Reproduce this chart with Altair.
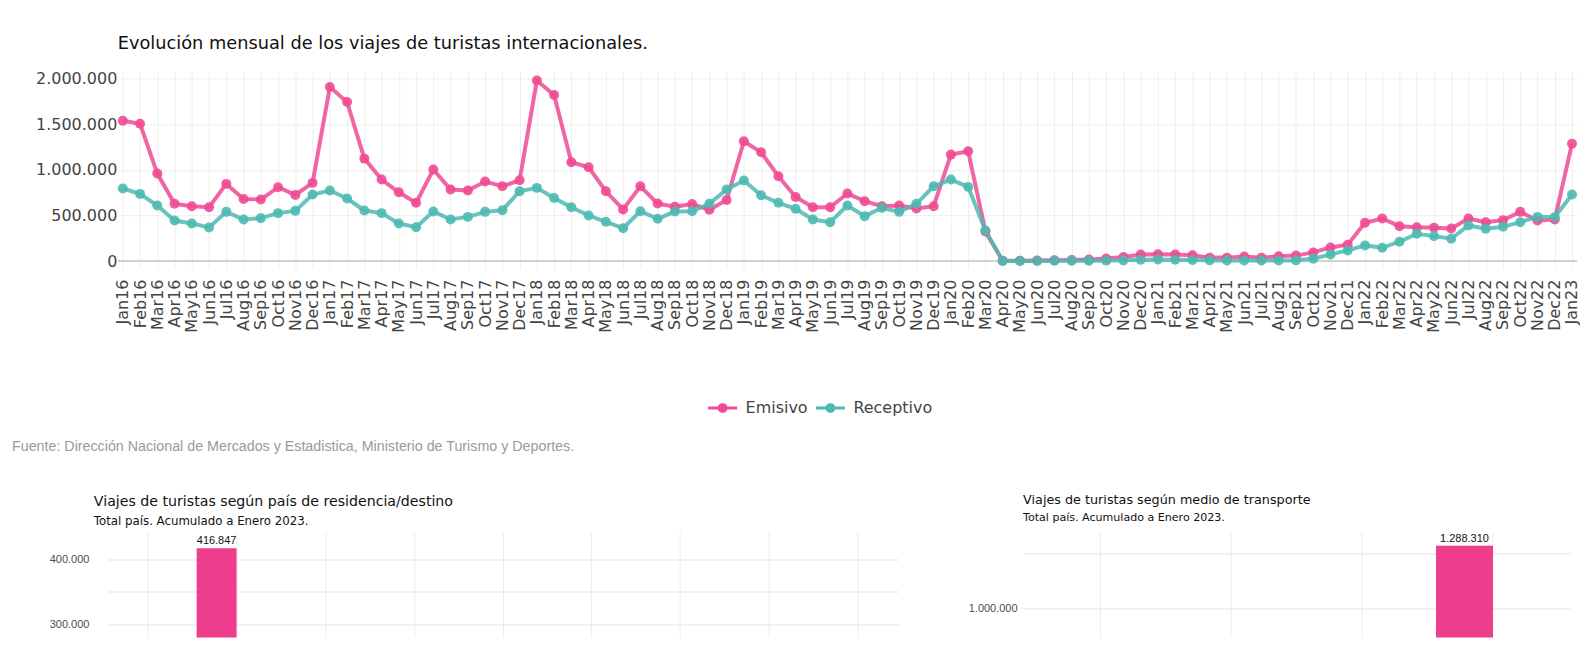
import altair as alt
import pandas as pd

# ---------------- data ----------------
meses_abrev = ["Jan", "Feb", "Mar", "Apr", "May", "Jun", "Jul", "Aug", "Sep", "Oct", "Nov", "Dec"]
anios = ["16", "17", "18", "19", "20", "21", "22"]
meses = [m + a for a in anios for m in meses_abrev] + ["Jan23"]

emisivo = [
    1540000, 1507000, 960000, 628000, 602000, 591000, 847000, 682000, 675000, 810000, 726000, 858000,
    1909000, 1745000, 1124000, 894000, 755000, 639000, 1004000, 785000, 774000, 872000, 821000, 887000,
    1982000, 1821000, 1084000, 1029000, 766000, 566000, 821000, 631000, 595000, 625000, 563000, 670000,
    1314000, 1193000, 931000, 704000, 591000, 591000, 741000, 657000, 602000, 609000, 577000, 602000,
    1168000, 1204000, 325000, 3000, 4000, 6000, 10000, 12000, 18000, 28000, 45000, 72000,
    75000, 72000, 65000, 38000, 38000, 50000, 38000, 52000, 60000, 95000, 150000, 180000,
    420000, 467000, 383000, 372000, 365000, 358000, 467000, 427000, 449000, 540000, 445000, 456000,
    1288310,
]
receptivo = [
    796000, 737000, 609000, 445000, 412000, 369000, 540000, 456000, 471000, 526000, 551000, 730000,
    774000, 686000, 555000, 526000, 412000, 372000, 544000, 456000, 485000, 540000, 558000, 766000,
    803000, 693000, 591000, 500000, 431000, 361000, 547000, 464000, 543000, 547000, 628000, 785000,
    883000, 723000, 639000, 573000, 456000, 427000, 609000, 493000, 584000, 540000, 628000, 821000,
    894000, 814000, 335000, 2000, 2000, 2000, 3000, 3000, 4000, 5000, 8000, 15000,
    18000, 15000, 12000, 8000, 6000, 6000, 6000, 6000, 8000, 25000, 73000, 117000,
    172000, 146000, 212000, 299000, 274000, 245000, 391000, 354000, 376000, 427000, 485000, 482000,
    730000,
]

series = ["Emisivo", "Receptivo"]
colores_linea = ["#EF4A94", "#4DBAB1"]
color_barra = "#EE3D8C"

titulo = "Evolución mensual de los viajes de turistas internacionales."
fuente = "Fuente: Dirección Nacional de Mercados y Estadistica, Ministerio de Turismo y Deportes."

# bottom-left chart (only the part visible in the screenshot)
pais_categorias = [1, 2, 3, 4, 5, 6, 7, 8, 9]
pais_bar_cat = [2]
pais_bar_serie = ["Emisivo"]
pais_bar_valor = [416847]

# bottom-right chart
transp_categorias = [1, 2, 3, 4]
transp_bar_cat = [4]
transp_bar_serie = ["Emisivo"]
transp_bar_valor = [1288310]

# ---------------- helpers ----------------
FONT = "DejaVu Sans"
FONT2 = "Liberation Sans"
DOTS = "replace(replace(format({v}, ','), ',', '.'), ',', '.')"

df = pd.DataFrame({
    "mes": meses * 2,
    "serie": ["Emisivo"] * len(meses) + ["Receptivo"] * len(meses),
    "viajes": emisivo + receptivo,
})

color_scale = alt.Scale(domain=series, range=colores_linea)

x_enc = alt.X(
    "mes:O", sort=meses,
    scale=alt.Scale(type="point", padding=0.29),
    axis=alt.Axis(title=None, labelAngle=-90, labelFont=FONT, labelFontSize=16,
                  labelColor="#444444", grid=True, gridColor="#eeeeee", ticks=False,
                  domain=False, labelPadding=10),
)
y_enc = alt.Y(
    "viajes:Q",
    scale=alt.Scale(domain=[-88000, 2080000], nice=False, zero=False),
    axis=alt.Axis(title=None, values=[0, 500000, 1000000, 1500000, 2000000],
                  labelExpr=DOTS.format(v="datum.value"), labelFont=FONT, labelFontSize=16,
                  labelColor="#444444", gridColor="#eeeeee", ticks=False, domain=False,
                  labelPadding=1, minExtent=110, maxExtent=110),
)

sym_path = ("M-1,0L1,0"
            "M-0.24,0A0.24,0.24,0,1,1,0.24,0A0.24,0.24,0,1,1,-0.24,0"
            "M-0.1,0A0.1,0.1,0,1,1,0.1,0A0.1,0.1,0,1,1,-0.1,0")

leg = alt.Legend(title=None, orient="none", legendX=590, legendY=321, direction="horizontal",
                 symbolType=sym_path, symbolSize=841, symbolStrokeWidth=3, symbolOpacity=1,
                 labelFont=FONT, labelFontSize=16, labelColor="#444444",
                 columnPadding=1, labelOffset=7, padding=0)

base = alt.Chart(df)
zero = alt.Chart(pd.DataFrame({"viajes": [0]})).mark_rule(color="#d2d2d2", strokeWidth=2).encode(y="viajes:Q")
lines = base.mark_line(strokeWidth=4, opacity=0.85).encode(
    x=x_enc, y=y_enc,
    color=alt.Color("serie:N", scale=color_scale, legend=leg),
)
points = base.mark_point(filled=True, size=100, opacity=0.9).encode(
    x=alt.X("mes:O", sort=meses), y="viajes:Q",
    color=alt.Color("serie:N", scale=color_scale, legend=None),
)
src = alt.Chart(pd.DataFrame({"t": [fuente]})).mark_text(
    align="left", baseline="middle", font=FONT2, fontSize=14.3, color="#9a9a9a"
).encode(text="t:N", x=alt.value(-106), y=alt.value(376))

main = alt.layer(zero, lines, points, src).properties(
    width=1462, height=198,
    title=alt.TitleParams(titulo, anchor="start", frame="group", font=FONT, fontSize=17.8,
                          fontWeight="normal", color="#111111", offset=4, baseline="alphabetic"),
)


def bar_chart(cats, bcat, bserie, bval, dom, grid_vals, label_step, rng, pin, pout,
              label_pad, extent):
    d = pd.DataFrame({"cat": bcat, "serie": bserie, "viajes": bval})
    sc = dict(domain=cats, paddingInner=pin, paddingOuter=pout)
    if rng is not None:
        sc["range"] = rng
    xe = alt.X("cat:O", scale=alt.Scale(**sc),
               axis=alt.Axis(title=None, labels=False, ticks=False, domain=False, grid=True,
                             gridColor="#ececec"))
    xo = alt.XOffset("serie:N", scale=alt.Scale(domain=series))
    ax = dict(title=None, values=grid_vals,
              labelExpr="datum.value % " + str(label_step) + " == 0 ? "
              + DOTS.format(v="datum.value") + " : ''",
              labelFont=FONT2, labelFontSize=11, labelColor="#4d4d4d",
              gridColor="#ececec", gridWidth=1.5, ticks=False, domain=False,
              labelPadding=label_pad)
    if extent is not None:
        ax["minExtent"] = extent
        ax["maxExtent"] = extent
    ye = alt.Y("viajes:Q", scale=alt.Scale(domain=dom, nice=False, zero=False),
               axis=alt.Axis(**ax))
    b = alt.Chart(d).mark_bar(clip=True, color=color_barra).encode(x=xe, xOffset=xo, y=ye)
    t = alt.Chart(d).transform_calculate(
        lab=DOTS.format(v="datum.viajes")
    ).mark_text(baseline="bottom", dy=-2, font=FONT2, fontSize=11, color="#111111").encode(
        x="cat:O", xOffset="serie:N", y="viajes:Q", text="lab:N")
    return alt.layer(b, t)


def sub_title(text, dx, size, sub_size, sub_pad, offset):
    return alt.TitleParams(text, subtitle="Total país. Acumulado a Enero 2023.", anchor="start",
                           frame="group", dx=dx, font=FONT, fontSize=size, fontWeight="normal",
                           color="#111111", subtitleFont=FONT, subtitleFontSize=sub_size,
                           subtitleColor="#111111", subtitlePadding=sub_pad, offset=offset)


left = bar_chart(pais_categorias, pais_bar_cat, pais_bar_serie, pais_bar_valor,
                 [280000, 440700], [300000, 350000, 400000], 100000, [-10, 782], 0.101, 0,
                 29, None
                 ).properties(width=796, height=105,
                              title=sub_title("Viajes de turistas según país de residencia/destino",
                                              -24, 14.2, 11.8, 6.5, 5))
right = bar_chart(transp_categorias, transp_bar_cat, transp_bar_serie, transp_bar_valor,
                  [868000, 1348000], [1000000, 1250000], 500000, None, 0.13, 0.153, 6, 55
                  ).properties(width=548, height=105,
                               title=sub_title("Viajes de turistas según medio de transporte",
                                               0, 12.8, 11.1, 5, 10))

bottom = alt.hconcat(left, right, spacing=56).resolve_scale(xOffset="independent")

chart = alt.concat(main, bottom, columns=1, align="none", spacing=39).properties(
    padding={"left": 0, "top": 26, "right": 0, "bottom": 0},
    background="white",
).configure_view(stroke=None)

chart.save("out.html", embed_options={"renderer": "svg", "actions": False})
